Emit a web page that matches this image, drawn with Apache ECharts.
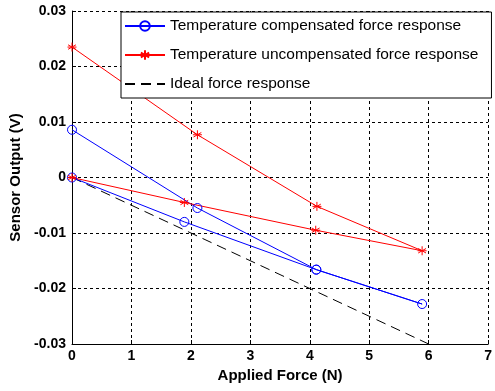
<!DOCTYPE html>
<html>
<head>
<meta charset="utf-8">
<script src="https://cdn.jsdelivr.net/npm/echarts@6/dist/echarts.min.js"></script>
<style>html,body{margin:0;padding:0;background:#fff;}#c{width:495px;height:391px;}</style>
</head>
<body>
<div id="c"></div>
<script>
// Data (loading then unloading path)
const compForce = [0, 1.89, 4.11, 5.89, 4.11, 2.11, 0];
const compOutput = [0, -0.0080, -0.0166, -0.0228, -0.0166, -0.0055, 0.0086];
const uncompForce = [0, 1.89, 4.10, 5.89, 4.12, 2.11, 0];
const uncompOutput = [0, -0.0045, -0.0095, -0.0132, -0.0052, 0.0077, 0.0235];
const idealForce = [0, 6];
const idealOutput = [0, -0.03];
const seriesNames = ['Temperature compensated force response', 'Temperature uncompensated force response', 'Ideal force response'];
const xTicks = {min: 0, max: 7, interval: 1};
const yTicks = {min: -0.03, max: 0.03, interval: 0.01};

const pairs = (xs, ys) => xs.map((x, i) => [x, ys[i]]);
const FONT = '"Liberation Sans", Arial, sans-serif';
const starPath = 'path://M5,0L5,10M0.67,2.5L9.33,7.5M0.67,7.5L9.33,2.5M0,5L10,5';

const chart = echarts.init(document.getElementById('c'), null, {renderer: 'canvas'});
chart.setOption({
  animation: false,
  backgroundColor: '#fff',
  grid: {left: 69, right: 4, top: 11, bottom: 47, containLabel: false},
  xAxis: {
    type: 'value', min: xTicks.min, max: xTicks.max, interval: xTicks.interval,
    name: 'Applied Force (N)', nameLocation: 'middle', nameGap: 24,
    nameTextStyle: {fontFamily: FONT, fontSize: 15, fontWeight: 'bold', color: '#000'},
    axisLine: {show: true, onZero: false, lineStyle: {color: '#000', width: 1}},
    axisTick: {show: true, inside: true, length: 4, lineStyle: {color: '#000'}},
    axisLabel: {fontFamily: FONT, fontSize: 14, fontWeight: 'bold', color: '#000', margin: 5},
    splitLine: {show: true, lineStyle: {color: '#000', width: 1, type: [3, 3]}}
  },
  yAxis: {
    type: 'value', min: yTicks.min, max: yTicks.max, interval: yTicks.interval,
    name: 'Sensor Output (V)', nameLocation: 'middle', nameGap: 49,
    nameTextStyle: {fontFamily: FONT, fontSize: 15, fontWeight: 'bold', color: '#000'},
    axisLine: {show: true, onZero: false, lineStyle: {color: '#000', width: 1}},
    axisTick: {show: true, inside: true, length: 4, lineStyle: {color: '#000'}},
    axisLabel: {fontFamily: FONT, fontSize: 14, fontWeight: 'bold', color: '#000', margin: 6,
      formatter: v => String(Math.round(v * 100) / 100)},
    splitLine: {show: true, lineStyle: {color: '#000', width: 1, type: [3, 3]}}
  },
  legend: {
    orient: 'vertical', left: 121, top: 12,
    padding: [6, 13, 6, 3], itemGap: 13, itemWidth: 40, itemHeight: 12,
    backgroundColor: '#fff', borderColor: '#000', borderWidth: 1, borderRadius: 0,
    textStyle: {fontFamily: FONT, fontSize: 15.5, color: '#000'},
    data: [
      {name: seriesNames[0]},
      {name: seriesNames[1]},
      {name: seriesNames[2], itemStyle: {color: 'rgba(0,0,0,0)', borderWidth: 0, opacity: 0}}
    ]
  },
  series: [
    {
      name: seriesNames[0], type: 'line', data: pairs(compForce, compOutput),
      symbol: 'circle', symbolSize: 9, showSymbol: true,
      lineStyle: {color: '#0000ff', width: 1},
      itemStyle: {color: 'rgba(0,0,0,0)', borderColor: '#0000ff', borderWidth: 1},
      z: 3
    },
    {
      name: seriesNames[1], type: 'line', data: pairs(uncompForce, uncompOutput),
      symbol: starPath, symbolSize: 9,
      lineStyle: {color: '#ff0000', width: 1},
      itemStyle: {color: 'rgba(0,0,0,0)', borderColor: '#ff0000', borderWidth: 1},
      z: 3
    },
    {
      name: seriesNames[2], type: 'line', data: pairs(idealForce, idealOutput),
      symbol: 'none',
      lineStyle: {color: '#000', width: 1, type: [10, 6]},
      itemStyle: {color: 'rgba(0,0,0,0)'},
      z: 2
    }
  ]
});
</script>
</body>
</html>
